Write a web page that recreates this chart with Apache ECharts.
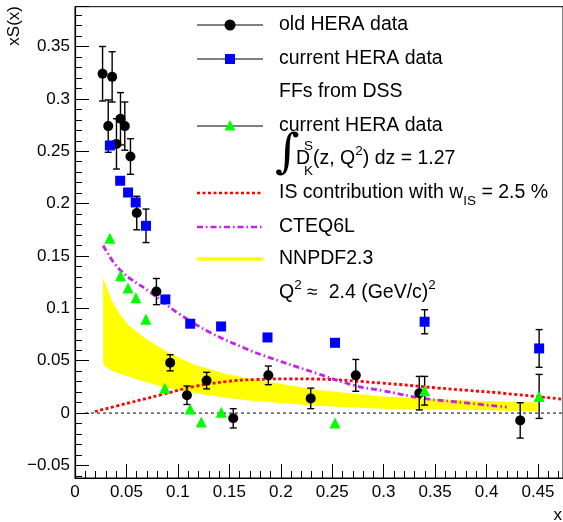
<!DOCTYPE html>
<html>
<head>
<meta charset="utf-8">
<script src="https://cdn.jsdelivr.net/npm/echarts@6/dist/echarts.min.js"></script>
<style>
  html, body { margin: 0; padding: 0; background: #fff; }
  #chart { width: 563px; height: 522px; }
</style>
</head>
<body>
<div id="chart"></div>
<script>
// ---- old HERA data (black circles) ----
const oldX   = [0.0268, 0.0323, 0.0361, 0.0403, 0.0442, 0.0484, 0.0539, 0.0600, 0.0791, 0.0925, 0.1088, 0.1279, 0.1538, 0.1879, 0.2291, 0.2729, 0.3346, 0.4327];
const oldY   = [0.324, 0.274, 0.321, 0.257, 0.281, 0.274, 0.245, 0.191, 0.116, 0.048, 0.017, 0.031, -0.005, 0.036, 0.014, 0.036, 0.019, -0.007];
const oldErr = [0.026, 0.025, 0.024, 0.024, 0.025, 0.023, 0.017, 0.016, 0.0125, 0.0077, 0.0088, 0.0079, 0.0092, 0.0089, 0.0098, 0.0152, 0.016, 0.0169];

// ---- current HERA data (blue squares) ----
const curX   = [0.0339, 0.0439, 0.0516, 0.0590, 0.0690, 0.0878, 0.1120, 0.1420, 0.1871, 0.2527, 0.3398, 0.4511];
const curY   = [0.2555, 0.2218, 0.2106, 0.2011, 0.1788, 0.1085, 0.0853, 0.0827, 0.0722, 0.0671, 0.0872, 0.0617];
const curErr = [0, 0, 0, 0, 0.016, 0, 0, 0, 0, 0, 0.0115, 0.018];

// ---- current HERA data, FFs from DSS (green triangles) ----
const dssX   = [0.0339, 0.0443, 0.0516, 0.0592, 0.0689, 0.0873, 0.1119, 0.1227, 0.1422, 0.2527, 0.3398, 0.4511];
const dssY   = [0.167, 0.131, 0.1195, 0.110, 0.0895, 0.0237, 0.004, -0.0086, 0.0008, -0.0095, 0.0213, 0.0159];
const dssErr = [0, 0, 0, 0, 0, 0, 0, 0, 0, 0, 0.0137, 0.021];

// ---- IS contribution (red dotted) ----
const isX = [0.0194, 0.0516, 0.0839, 0.116, 0.148, 0.175, 0.21, 0.234, 0.2985, 0.353, 0.382, 0.41, 0.4743];
const isY = [0.0015, 0.0095, 0.0175, 0.0254, 0.0302, 0.032, 0.0327, 0.0325, 0.0286, 0.0239, 0.0216, 0.0195, 0.0132];

// ---- CTEQ6L (magenta dash-dot) ----
const cteqX = [0.0274, 0.0436, 0.0742, 0.1, 0.1323, 0.1646, 0.184, 0.234, 0.273, 0.2985, 0.337, 0.382, 0.4195];
const cteqY = [0.160, 0.1368, 0.1146, 0.0955, 0.0764, 0.0621, 0.0547, 0.0382, 0.026, 0.0215, 0.0143, 0.0095, 0.0057];

// ---- NNPDF2.3 band (yellow) ----
const nnX  = [0.0274, 0.0355, 0.0435, 0.0516, 0.0678, 0.0839, 0.1, 0.116, 0.148, 0.175, 0.234, 0.2985, 0.382, 0.4495];
const nnHi = [0.129, 0.108, 0.0945, 0.0843, 0.0716, 0.062, 0.0535, 0.0461, 0.037, 0.032, 0.0222, 0.0159, 0.012, 0.0101];
const nnLo = [0.0461, 0.0405, 0.0375, 0.035, 0.0298, 0.0254, 0.022, 0.0191, 0.0143, 0.0115, 0.007, 0.0041, 0.0032, 0.0015];

// ---- zero reference line ----
const zeroX = [0.0097, 0.4743];
const zeroY = [0, 0];

// ---- axis tick step ----
const xTickStep = 0.05;
const yTickStep = 0.05;

const FONT = "'Liberation Sans', Arial, Helvetica, sans-serif";
const pairs = (xs, ys) => xs.map((x, i) => [x, ys[i]]);
const triples = (xs, ys, es) => xs.map((x, i) => [x, ys[i], es[i]]).filter(d => d[2] > 0);

function tickLabel(v) {
  const k = v / yTickStep;
  if (Math.abs(k - Math.round(k)) > 1e-6) return '';
  if (Math.abs(v) < 1e-9) return '0';
  return String(+v.toFixed(3)).replace('-', '\u2212');
}

function errorBars(params, api) {
  const x = api.value(0), y = api.value(1), e = api.value(2);
  const a = api.coord([x, y + e]);
  const b = api.coord([x, y - e]);
  const hw = 3.5;
  const st = { stroke: '#000', lineWidth: 1.4 };
  return {
    type: 'group',
    children: [
      { type: 'line', shape: { x1: a[0], y1: a[1], x2: b[0], y2: b[1] }, style: st },
      { type: 'line', shape: { x1: a[0] - hw, y1: a[1], x2: a[0] + hw, y2: a[1] }, style: st },
      { type: 'line', shape: { x1: b[0] - hw, y1: b[1], x2: b[0] + hw, y2: b[1] }, style: st }
    ]
  };
}

function bandPolygon(params, api) {
  const pts = [];
  for (let i = 0; i < nnX.length; i++) pts.push(api.coord([nnX[i], nnHi[i]]));
  for (let i = nnX.length - 1; i >= 0; i--) pts.push(api.coord([nnX[i], nnLo[i]]));
  return { type: 'polygon', shape: { points: pts }, style: { fill: '#ffff00', stroke: null } };
}

// ---- legend drawn as graphic elements ----
const mctx = document.createElement('canvas').getContext('2d');
function textW(t, size, fam) { mctx.font = size + 'px ' + (fam || FONT); return mctx.measureText(t).width; }
function textRun(x, y, pieces) {
  const out = [];
  for (const p of pieces) {
    const [t, size, dy, fam, adv] = p;
    out.push({
      type: 'text', x: x, y: y + (dy || 0), silent: true,
      style: { text: t, fontSize: size, fontFamily: fam || FONT, fill: '#000', align: 'left', verticalAlign: 'middle' }
    });
    x += (adv === undefined) ? textW(t, size, fam) : adv;
  }
  return out;
}

const LX0 = 197, LX1 = 263, LMX = 230, TX = 279, FS = 19.5, SFS = 13.5;
const legendItems = [];
function sampleLine(y, color, width, dash) {
  legendItems.push({ type: 'line', silent: true, shape: { x1: LX0, y1: y, x2: LX1, y2: y },
    style: { stroke: color, lineWidth: width, lineDash: dash || null } });
}
// old HERA data
sampleLine(25, '#000', 1);
legendItems.push({ type: 'circle', silent: true, shape: { cx: LMX, cy: 25, r: 5.5 }, style: { fill: '#000' } });
legendItems.push(...textRun(TX, 25, [['old HERA data', FS]]));
// current HERA data
sampleLine(59, '#000', 1);
legendItems.push({ type: 'rect', silent: true, shape: { x: LMX - 5, y: 54, width: 10, height: 10 }, style: { fill: '#0000ff' } });
legendItems.push(...textRun(TX, 59, [['current HERA data', FS]]));
// FFs from DSS
legendItems.push(...textRun(TX, 92, [['FFs from DSS', FS]]));
// current HERA data (DSS)
sampleLine(126, '#000', 1);
legendItems.push({ type: 'polygon', silent: true, shape: { points: [[LMX, 120], [LMX - 5.5, 130.5], [LMX + 5.5, 130.5]] }, style: { fill: '#00ff00' } });
legendItems.push(...textRun(TX, 126, [['current HERA data', FS]]));
// integral of the fragmentation function
legendItems.push(...textRun(275, 155, [['\u222B', 47, 0, "'DejaVu Serif', serif"]]));
legendItems.push(...textRun(296, 159, [['D', FS]]));
legendItems.push(...textRun(304, 146, [['S', SFS]]));
legendItems.push(...textRun(304, 171, [['K', SFS]]));
legendItems.push(...textRun(313, 159, [['(z, Q', FS], ['2', SFS, -8], [') dz = 1.27', FS]]));
// IS contribution
sampleLine(193, '#ff0000', 2.5, [3, 2.5]);
legendItems.push(...textRun(TX, 193, [['IS contribution with w', FS], ['IS', SFS, 8], [' = 2.5 %', FS]]));
// CTEQ6L
sampleLine(227, '#c81ef0', 2.5, [6, 3, 1.5, 3]);
legendItems.push(...textRun(TX, 227, [['CTEQ6L', FS]]));
// NNPDF2.3
sampleLine(259, '#ffff00', 3.5);
legendItems.push(...textRun(TX, 259, [['NNPDF2.3', FS]]));
// Q^2 note
legendItems.push(...textRun(TX, 293, [['Q', FS], ['2', SFS, -8], [' \u2248  2.4 (GeV/c)', FS], ['2', SFS, -8]]));

// axis titles
legendItems.push({ type: 'text', silent: true, x: 14, y: 6, rotation: Math.PI / 2,
  style: { text: 'xS(x)', fontSize: 17, fontFamily: FONT, fill: '#000', align: 'right', verticalAlign: 'middle' } });
legendItems.push({ type: 'text', silent: true, x: 562, y: 515,
  style: { text: 'x', fontSize: 17, fontFamily: FONT, fill: '#000', align: 'right', verticalAlign: 'middle' } });

const chart = echarts.init(document.getElementById('chart'), null, { renderer: 'canvas' });
chart.setOption({
  animation: false,
  backgroundColor: '#fff',
  grid: { left: 75, top: 6.7, right: -2, bottom: 44, show: true, borderColor: '#000', borderWidth: 1, backgroundColor: 'transparent' },
  xAxis: {
    type: 'value', min: 0, max: 0.4743, interval: xTickStep,
    axisLine: { show: true, onZero: false, lineStyle: { color: '#000', width: 1.2 } },
    axisTick: { inside: true, length: 14, lineStyle: { color: '#000' } },
    minorTick: { show: true, splitNumber: 5, length: 7, lineStyle: { color: '#000' } },
    splitLine: { show: false },
    axisLabel: {
      color: '#000', fontSize: 17, fontFamily: FONT, margin: 6, showMaxLabel: false,
      formatter: v => { const k = v / xTickStep; if (Math.abs(k - Math.round(k)) > 1e-6) return ''; return Math.abs(v) < 1e-9 ? '0' : String(+v.toFixed(3)); }
    }
  },
  yAxis: {
    type: 'value', min: -0.062, max: 0.388, splitNumber: 9,
    axisLine: { show: true, onZero: false, lineStyle: { color: '#000', width: 1.2 } },
    axisTick: { inside: true, length: 14, lineStyle: { color: '#000' } },
    minorTick: { show: true, splitNumber: 5, length: 7, lineStyle: { color: '#000' } },
    splitLine: { show: false },
    axisLabel: { color: '#000', fontSize: 17, fontFamily: FONT, margin: 5, formatter: tickLabel }
  },
  graphic: legendItems,
  series: [
    { type: 'custom', name: 'NNPDF2.3', renderItem: bandPolygon, data: [[nnX[0], nnHi[0]]], z: 1, silent: true },
    { type: 'line', name: 'zero', data: pairs(zeroX, zeroY), showSymbol: false, z: 2, silent: true,
      lineStyle: { color: '#000', width: 1, type: [3, 3] } },
    { type: 'line', name: 'IS contribution', data: pairs(isX, isY), smooth: 0.4, showSymbol: false, z: 3, silent: true,
      lineStyle: { color: '#ff0000', width: 2.8, type: [3, 2.5] } },
    { type: 'line', name: 'CTEQ6L', data: pairs(cteqX, cteqY), smooth: 0.4, showSymbol: false, z: 3, silent: true,
      lineStyle: { color: '#c81ef0', width: 2.8, type: [6, 3, 1.5, 3] } },
    { type: 'custom', name: 'old err', renderItem: errorBars, data: triples(oldX, oldY, oldErr), z: 4, silent: true },
    { type: 'custom', name: 'cur err', renderItem: errorBars, data: triples(curX, curY, curErr), z: 4, silent: true },
    { type: 'custom', name: 'dss err', renderItem: errorBars, data: triples(dssX, dssY, dssErr), z: 4, silent: true },
    { type: 'scatter', name: 'old HERA data', data: pairs(oldX, oldY), symbol: 'circle', symbolSize: 10, z: 5,
      itemStyle: { color: '#000', opacity: 1 } },
    { type: 'scatter', name: 'current HERA data', data: pairs(curX, curY), symbol: 'rect', symbolSize: 10, z: 5,
      itemStyle: { color: '#0000ff', opacity: 1 } },
    { type: 'scatter', name: 'FFs from DSS', data: pairs(dssX, dssY), symbol: 'triangle', symbolSize: 11, z: 5,
      itemStyle: { color: '#00ff00', opacity: 1 } }
  ]
});
</script>
</body>
</html>
